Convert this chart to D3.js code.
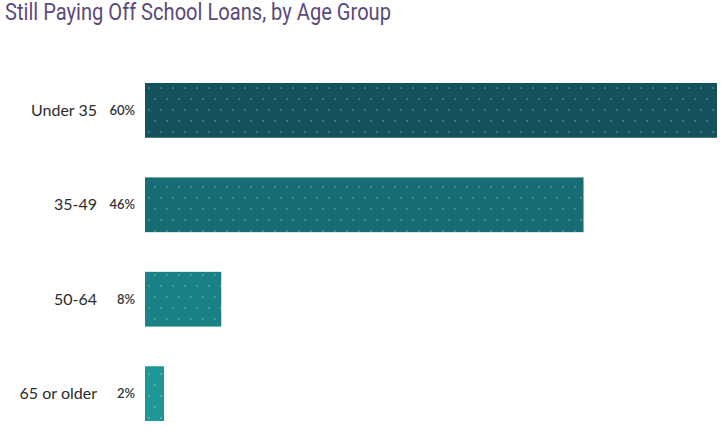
<!DOCTYPE html>
<html>
<head>
<meta charset="utf-8">
<script src="https://cdn.jsdelivr.net/npm/d3@7"></script>
<style>
  body { margin: 0; background: #fff; }
  svg { display: block; }
</style>
</head>
<body>
<svg width="722" height="437"></svg>
<script>
// data
var groups = ["Under 35", "35-49", "50-64", "65 or older"];
var shares = [60, 46, 8, 2];
var colors = ["#14525d", "#176c75", "#1a8287", "#1f9797"];

var svg = d3.select("svg");
var margin = {top: 83, right: 5, bottom: 16, left: 145};
var width = +svg.attr("width") - margin.left - margin.right,
    height = +svg.attr("height") - margin.top - margin.bottom;

// dotted texture
var defs = svg.append("defs");
colors.forEach(function(c, i) {
  var p = defs.append("pattern")
    .attr("id", "dots" + i)
    .attr("patternUnits", "userSpaceOnUse")
    .attr("width", 24).attr("height", 22);
  p.append("rect").attr("width", 24).attr("height", 22).attr("fill", c);
  [[4, 5], [16, 5], [10, 16], [22, 16]].forEach(function(d) {
    p.append("circle").attr("cx", d[0]).attr("cy", d[1]).attr("r", 0.9)
      .attr("fill", "#fff").attr("opacity", 0.3);
  });
});

// title, squeezed to look condensed
svg.append("text")
  .attr("x", 5).attr("y", 20)
  .attr("fill", "#5b4a79")
  .attr("textLength", 386)
  .attr("lengthAdjust", "spacingAndGlyphs")
  .style("font-family", "'Roboto', sans-serif")
  .style("font-size", "23px")
  .text("Still Paying Off School Loans, by Age Group");

var x = d3.scaleLinear().domain([0, 60]).range([0, width]);
var y = d3.scaleBand().domain(groups).range([0, 338]).paddingInner(0.42).paddingOuter(0);

var g = svg.append("g").attr("transform", "translate(" + margin.left + "," + margin.top + ")");

g.selectAll("rect.bar")
  .data(groups)
  .enter().append("rect")
    .attr("class", "bar")
    .attr("x", 0)
    .attr("y", function(d) { return y(d); })
    .attr("height", y.bandwidth())
    .attr("width", function(d, i) { return x(shares[i]); })
    .attr("fill", function(d, i) { return "url(#dots" + i + ")"; });

g.selectAll("text.pct")
  .data(groups)
  .enter().append("text")
    .attr("class", "pct")
    .attr("x", -10)
    .attr("y", function(d) { return y(d) + y.bandwidth() / 2; })
    .attr("dy", "0.35em")
    .attr("text-anchor", "end")
    .attr("fill", "#333")
    .style("font-family", "'Lato', sans-serif")
    .style("font-size", "13px")
    .style("font-weight", "600")
    .text(function(d, i) { return shares[i] + "%"; });

g.selectAll("text.grp")
  .data(groups)
  .enter().append("text")
    .attr("class", "grp")
    .attr("x", -48)
    .attr("y", function(d) { return y(d) + y.bandwidth() / 2; })
    .attr("dy", "0.35em")
    .attr("text-anchor", "end")
    .attr("fill", "#2b2b2b")
    .style("font-family", "'Lato', sans-serif")
    .style("font-size", "16px")
    .text(function(d) { return d; });
</script>
</body>
</html>
